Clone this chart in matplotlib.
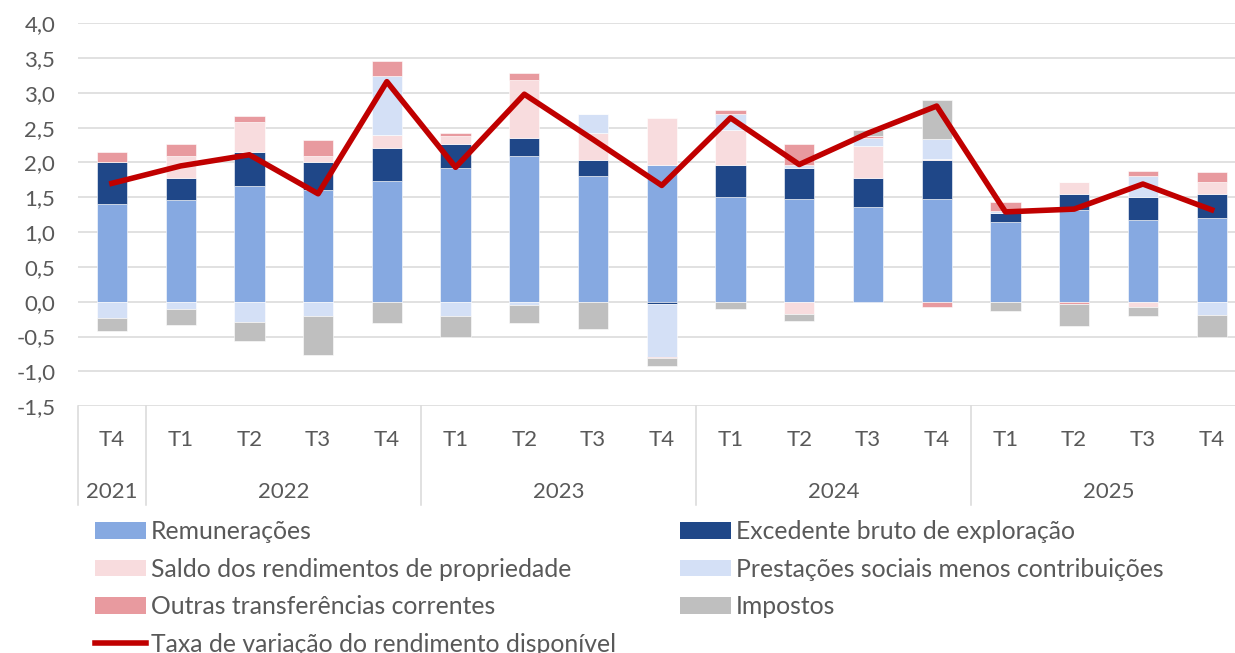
import numpy as np
import matplotlib
matplotlib.use("Agg")
import matplotlib.pyplot as plt
from matplotlib.patches import Patch
from matplotlib.lines import Line2D
import matplotlib.transforms as mtransforms

plt.rcParams['font.family'] = ['Lato', 'DejaVu Sans']

# Data (contributions, p.p.)
quarters = ["T4", "T1", "T2", "T3", "T4", "T1", "T2", "T3", "T4",
            "T1", "T2", "T3", "T4", "T1", "T2", "T3", "T4"]
years = ["2021", "2022", "2023", "2024", "2025"]
year_sizes = [1, 4, 4, 4, 4]

remuneracoes = [1.40, 1.46, 1.66, 1.60, 1.74, 1.92, 2.09, 1.80, 1.97,
                1.51, 1.48, 1.36, 1.48, 1.14, 1.31, 1.17, 1.20]
excedente = [0.60, 0.31, 0.49, 0.40, 0.47, 0.34, 0.26, 0.24, -0.03,
             0.46, 0.44, 0.41, 0.55, 0.14, 0.24, 0.34, 0.35]
saldo = [0.00, 0.32, 0.43, 0.09, 0.19, 0.12, 0.84, 0.39, 0.67,
         0.50, -0.17, 0.46, 0.02, 0.00, 0.17, -0.07, 0.17]
prestacoes = [-0.23, -0.11, -0.29, -0.20, 0.84, -0.20, -0.05, 0.27, -0.76,
              0.22, 0.05, 0.12, 0.29, 0.02, 0.00, 0.29, -0.19]
outras = [0.15, 0.17, 0.09, 0.23, 0.21, 0.05, 0.09, 0.00, -0.02,
          0.06, 0.29, 0.03, -0.08, 0.13, -0.03, 0.08, 0.15]
impostos = [-0.19, -0.22, -0.28, -0.57, -0.31, -0.31, -0.26, -0.39, -0.11,
            -0.11, -0.11, 0.08, 0.55, -0.13, -0.32, -0.14, -0.31]
taxa = [1.70, 1.95, 2.11, 1.55, 3.16, 1.93, 2.98, 2.33, 1.67,
        2.64, 1.97, 2.42, 2.81, 1.29, 1.33, 1.69, 1.32]

series = [
    ("Remunerações", remuneracoes, "#86A9E1"),
    ("Excedente bruto de exploração", excedente, "#1F4788"),
    ("Saldo dos rendimentos de propriedade", saldo, "#F8DCDE"),
    ("Prestações sociais menos contribuições", prestacoes, "#D4E0F6"),
    ("Outras transferências correntes", outras, "#E89A9F"),
    ("Impostos", impostos, "#BFBFBF"),
]
line_color = "#C00000"
text_color = "#595959"
grid_color = "#D9D9D9"

fig = plt.figure(figsize=(12.35, 6.53), dpi=100)
ax = fig.add_axes([0.0628, 0.378, 0.9461, 0.5865])

x = np.arange(len(quarters))
pos_base = np.zeros(len(x))
neg_base = np.zeros(len(x))
for name, vals, col in series:
    v = np.array(vals)
    bottoms = np.where(v >= 0, pos_base, neg_base)
    ax.bar(x, v, width=0.44, bottom=bottoms, color=col,
           edgecolor="white", linewidth=0.4, zorder=2)
    pos_base += np.where(v >= 0, v, 0)
    neg_base += np.where(v < 0, v, 0)

ax.plot(x, taxa, color=line_color, linewidth=4.0, zorder=3)

ax.set_xlim(-0.5, len(x) - 0.5)
ax.set_ylim(-1.5, 4.0)
ticks = np.arange(-1.5, 4.01, 0.5)
ax.set_yticks(ticks)
ax.set_yticklabels([f"{t:.1f}".replace(".", ",") for t in ticks],
                   fontsize=16, color=text_color)
ax.tick_params(axis="y", length=0, pad=16)
ax.set_xticks([])
ax.grid(axis="y", color=grid_color, linewidth=1.1, zorder=0)
for s in ax.spines.values():
    s.set_visible(False)

# category axis (two levels)
trans = mtransforms.blended_transform_factory(ax.transData, ax.transAxes)
for i, q in enumerate(quarters):
    ax.text(i, -0.089, q, transform=trans, ha="center", va="center",
            fontsize=16, color=text_color)
start = 0
bounds = [-0.5]
for yr, n in zip(years, year_sizes):
    ax.text(start + (n - 1) / 2, -0.225, yr, transform=trans, ha="center",
            va="center", fontsize=16, color=text_color)
    start += n
    bounds.append(start - 0.5)
for b in bounds:
    ax.add_line(Line2D([b, b], [0, -0.259], transform=trans, color=grid_color,
                       linewidth=1.1, clip_on=False))

# legend in two columns
handles = [Patch(facecolor=c, edgecolor="none", label=n) for n, _, c in series]
line_handle = Line2D([0], [0], color=line_color, linewidth=4.0,
                     label="Taxa de variação do rendimento disponível")
leg_kw = dict(frameon=False, fontsize=17.8, handlelength=2.05, handleheight=0.67,
              handletextpad=0.21, labelspacing=0.59, borderaxespad=0,
              borderpad=0, labelcolor=text_color)
leg1 = fig.legend(handles=[handles[0], handles[2], handles[4], line_handle],
                  loc="upper left", bbox_to_anchor=(95 / 1235, 1 - 520 / 653), **leg_kw)
leg2 = fig.legend(handles=[handles[1], handles[3], handles[5]],
                  loc="upper left", bbox_to_anchor=(680 / 1235, 1 - 520 / 653), **leg_kw)

fig.savefig("out.png", dpi=100)
